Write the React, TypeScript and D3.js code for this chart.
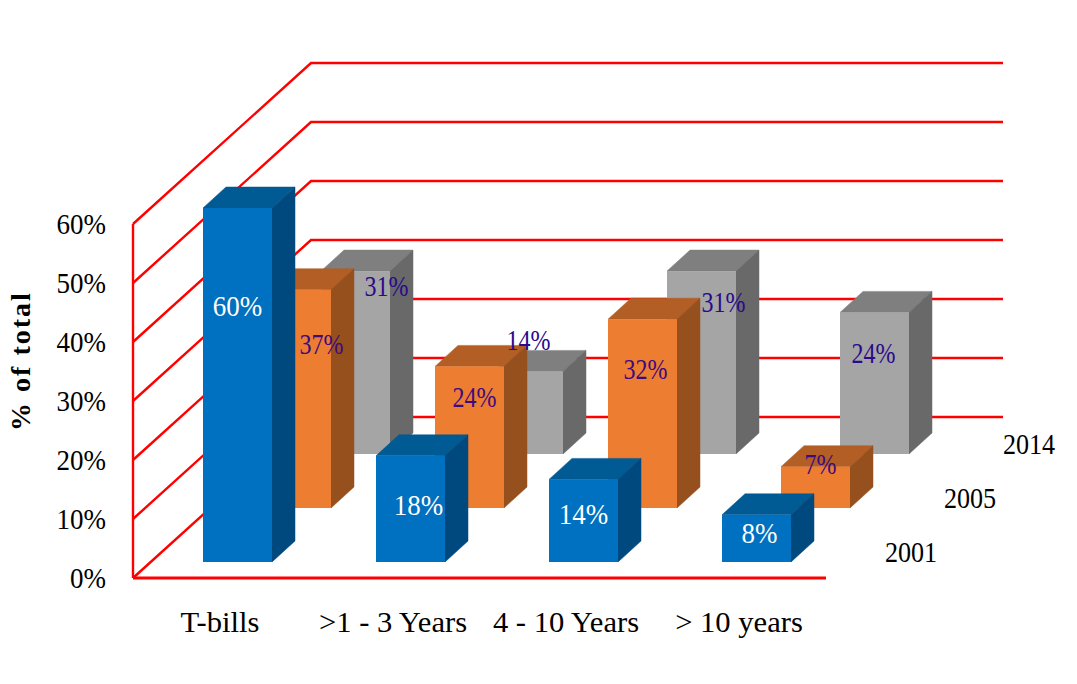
import * as d3 from "d3";
import type { ReactNode } from "react";

// Chart values
const categories = ["T-bills", ">1 - 3 Years", "4 - 10 Years", "> 10 years"];
const seriesNames = ["2001", "2005", "2014"];
const values2001 = [60, 18, 14, 8];
const values2005 = [37, 24, 32, 7];
const values2014 = [31, 14, 31, 24];
const yTicks = [0, 10, 20, 30, 40, 50, 60];

// Per-bar label placement, as [dx, dy] from the middle of the bar's front face top edge
const labelOffsets2001 = [[0, 100], [8, 51], [0, 36], [3, 20]];
const labelOffsets2005 = [[25, 56], [5, 32], [3, 51], [5, -1]];
const labelOffsets2014 = [[31, 16], [0, -30], [22, 32], [-1, 42]];

const serif = "'Liberation Serif', serif";

const palettes = [
  { front: "#0070C0", top: "#005A94", side: "#00497F", label: "#FFFFFF", squeeze: 0.9 },
  { front: "#ED7D31", top: "#B25E25", side: "#96501E", label: "#3F0A80", squeeze: 0.8 },
  { front: "#A5A5A5", top: "#7F7F7F", side: "#696969", label: "#2A0A8C", squeeze: 0.8 },
];

const rows = [
  { name: seriesNames[0], values: values2001, offsets: labelOffsets2001, palette: palettes[0] },
  { name: seriesNames[1], values: values2005, offsets: labelOffsets2005, palette: palettes[1] },
  { name: seriesNames[2], values: values2014, offsets: labelOffsets2014, palette: palettes[2] },
];

// Oblique projection: height is vertical, depth moves up and to the right
const height = d3.scaleLinear().domain([0, 60]).range([0, 354]);
const columnX = d3.scalePoint<string>().domain(categories).range([203, 722]);
const rowX = d3.scalePoint<number>().domain([0, 1, 2]).range([0, 118]);
const rowY = d3.scalePoint<number>().domain([0, 1, 2]).range([562, 454]);

const floorX = 133;
const floorY = 578;
const backX = 311;
const backRise = -161;
const floorFrontEnd = 826;
const backEnd = 1003;
const barWidth = 69;
const barDepthX = 23;
const barDepthY = -21;

const pts = (list: number[][]) => list.map((p) => p.join(",")).join(" ");
const RED = "#FF0000";

// Tall, narrow serif text: a larger size squeezed horizontally about its anchor
function Tall({ x, y, squeeze, size = 30, anchor = "middle", fill = "#000", children }: {
  x: number; y: number; squeeze: number; size?: number; anchor?: string; fill?: string; children: ReactNode;
}) {
  return (
    <text
      transform={`translate(${x},${y}) scale(${squeeze},1)`}
      dy="0.28em"
      textAnchor={anchor}
      fontSize={size}
      fill={fill}
    >
      {children}
    </text>
  );
}

function Bar({ x, y, h, palette }: { x: number; y: number; h: number; palette: typeof palettes[0] }) {
  const dx = barDepthX;
  const dy = barDepthY;
  const top = y - h;
  const right = x + barWidth;
  return (
    <g>
      <polygon
        points={pts([[x, top], [right, top], [right + dx, top + dy], [x + dx, top + dy]])}
        fill={palette.top}
        stroke={palette.top}
        strokeWidth={0.5}
      />
      <polygon
        points={pts([[right, top], [right + dx, top + dy], [right + dx, y + dy], [right, y]])}
        fill={palette.side}
        stroke={palette.side}
        strokeWidth={0.5}
      />
      <rect x={x} y={top} width={barWidth} height={h} fill={palette.front} />
    </g>
  );
}

export default function App() {
  return (
    <svg
      width={1077}
      height={684}
      style={{ position: "absolute", left: 0, top: 0, background: "#fff" }}
      fontFamily={serif}
    >
      {/* Left wall and back wall grid */}
      <line x1={floorX} x2={floorX} y1={floorY} y2={floorY - height(60)} stroke={RED} strokeWidth={2.4} />
      {yTicks.map((t) => {
        const y = floorY - height(t);
        return (
          <polyline
            key={t}
            points={pts([[floorX, y], [backX, y + backRise], [backEnd, y + backRise]])}
            fill="none"
            stroke={RED}
            strokeWidth={2.4}
          />
        );
      })}
      <line x1={floorX} x2={floorFrontEnd} y1={floorY} y2={floorY} stroke={RED} strokeWidth={3} />

      {/* Bars, furthest row first */}
      {rows.map((row, r) => ({ row, r })).reverse().map(({ row, r }) => (
        <g key={row.name}>
          {categories.map((c, i) => (
            <Bar
              key={c}
              x={columnX(c)! + rowX(r)!}
              y={rowY(r)!}
              h={height(row.values[i])}
              palette={row.palette}
            />
          ))}
        </g>
      ))}

      {/* Value labels */}
      {rows.map((row, r) =>
        categories.map((c, i) => (
          <Tall
            key={row.name + c}
            x={columnX(c)! + rowX(r)! + barWidth / 2 + row.offsets[i][0]}
            y={rowY(r)! - height(row.values[i]) + row.offsets[i][1]}
            squeeze={row.palette.squeeze}
            fill={row.palette.label}
          >
            {row.values[i]}%
          </Tall>
        ))
      )}

      {/* Value axis */}
      {yTicks.map((t) => (
        <Tall key={t} x={106} y={floorY - height(t) + 2} squeeze={0.9} anchor="end">
          {t}%
        </Tall>
      ))}
      <text
        transform="translate(20,361) rotate(-90)"
        dy="0.35em"
        textAnchor="middle"
        fontSize={28}
        fontWeight="bold"
        letterSpacing={2}
        fill="#000"
      >
        % of total
      </text>

      {/* Category and series names */}
      {categories.map((c) => (
        <Tall key={c} x={columnX(c)! + 17} y={624} squeeze={1.02}>
          {c}
        </Tall>
      ))}
      {rows.map((row, r) => (
        <Tall
          key={row.name}
          x={911 + rowX(r)!}
          y={554 + rowY(r)! - rowY(0)!}
          squeeze={0.87}
        >
          {row.name}
        </Tall>
      ))}
    </svg>
  );
}
